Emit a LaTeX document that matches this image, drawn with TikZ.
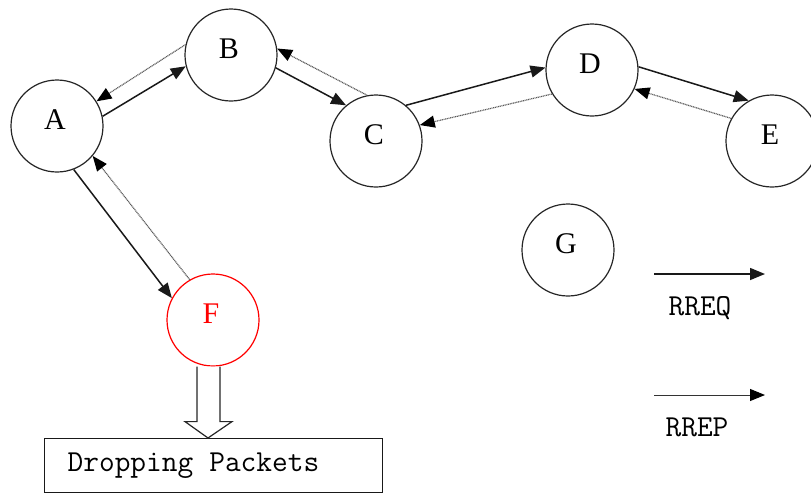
\documentclass[tikz,border=0pt]{standalone}
\usepackage{fontspec}
\setmainfont{Liberation Serif}
\usetikzlibrary{arrows.meta,calc}
\begin{document}
\begin{tikzpicture}[x=1pt,y=-1pt,
  nd/.style={circle,draw=black!85,line width=1.2pt,minimum size=92pt,inner sep=0pt},
  lbl/.style={font=\fontsize{30}{30}\selectfont,xshift=-2pt,yshift=6pt},
  req/.style={line width=1.5pt,draw=black!90,-{Triangle[length=15pt,width=12pt]}},
  rep/.style={line width=1.2pt,draw=black!65,dash pattern=on 1pt off 0.7pt,-{Triangle[length=15pt,width=12pt,fill=black,color=black]}},
  legreq/.style={line width=1.5pt,draw=black!90,-{Triangle[length=15pt,width=12pt]}},
  legrep/.style={line width=1pt,draw=black!80,-{Triangle[length=15pt,width=12pt,color=black]}},
  mono/.style={font=\ttfamily\fontsize{30.5}{30.5}\selectfont}]
\useasboundingbox (0,0) rectangle (811,493);
\begin{scope}
\clip (0,0) rectangle (811,493);
\node[nd,label={[lbl]center:A}] (A) at (57,126) {};
\node[nd,label={[lbl]center:B}] (B) at (231,55) {};
\node[nd,label={[lbl]center:C}] (C) at (376,141) {};
\node[nd,label={[lbl]center:D}] (D) at (592,70) {};
\node[nd,label={[lbl]center:E}] (E) at (772,141) {};
\node[nd,draw=red,label={[lbl,text=red]center:F}] (F) at (213,320) {};
\node[nd,label={[lbl]center:G}] (G) at (568,250) {};

% RREQ (solid)
\draw[req] (A.12.5) -- (B.194.6);
\draw[req] (B.-16) -- (C.130);
\draw[req] (C.50) -- (D.177.6);
\draw[req] (D.4) -- (E.120);
\draw[req] (A.-69) -- (F.152);
% RREP (dotted)
\draw[rep] (B.167.7) -- (A.32);
\draw[rep] (C.101) -- (B.8);
\draw[rep] (D.211.5) -- (C.20);
\draw[rep] (E.151) -- (D.-24);
\draw[rep] (F.120) -- (A.-40.6);

% dropping box
\node[draw=black!90,line width=1.3pt,anchor=north west,minimum height=54pt,
      text width=292pt,inner xsep=23pt,align=left,mono] (box) at (44,438) {Dropping\makebox[0.525em]{}Packets};
% hollow arrow from F to box
\draw[line width=1.2pt,draw=black!85,fill=white]
  ($(F.south)+(-16,0)$) -- ($(F.south)+(-16,55)$) -- ($(F.south)+(-28,55)$)
  -- (box.north -| {$(F.south)+(-5,0)$}) -- ($(F.south)+(19,55)$) -- ($(F.south)+(7,55)$)
  -- ($(F.south)+(7,0)$);

% legend
\coordinate (q1) at (654,274);
\coordinate (q2) at (765,274);
\coordinate (p1) at (654,395);
\coordinate (p2) at (765,395);
\draw[legreq] (q1) -- (q2);
\draw[legrep] (p1) -- (p2);
\node[mono] (lq) at (700,308) {RREQ};
\node[mono] (lp) at (697,427) {RREP};
\end{scope}
\end{tikzpicture}
\end{document}
